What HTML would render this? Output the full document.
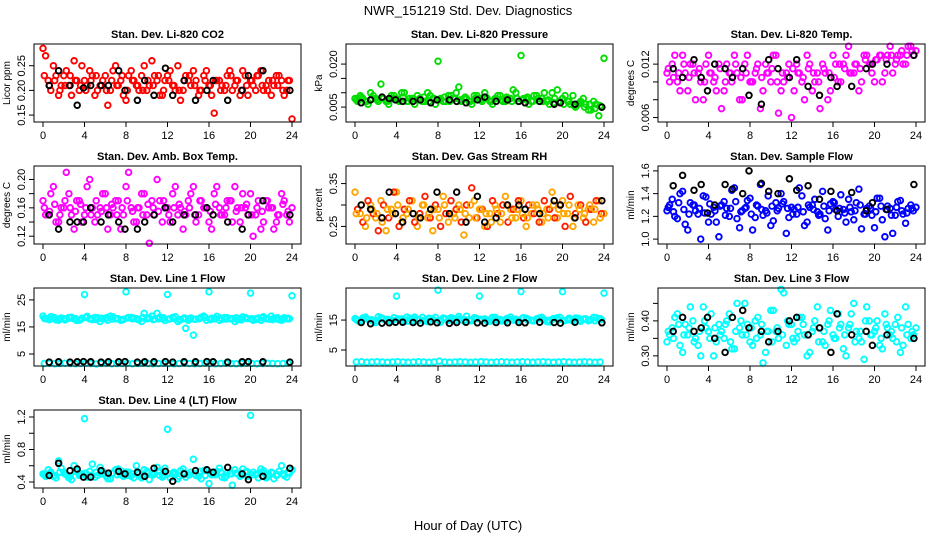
<!DOCTYPE html>
<html><head><meta charset="utf-8"><style>
html,body{margin:0;padding:0;background:#fff;}
svg{display:block;font-family:"Liberation Sans",sans-serif;}
</style></head><body>
<svg id="chart" width="936" height="540" viewBox="0 0 936 540" xmlns="http://www.w3.org/2000/svg">
<rect width="936" height="540" fill="#fff"/>
<text x="468" y="15" text-anchor="middle" font-size="13">NWR_151219  Std. Dev. Diagnostics</text>
<text x="468" y="530" text-anchor="middle" font-size="13">Hour of Day (UTC)</text>
</svg>
<script>
const xTicks=[0,4,8,12,16,20,24];
const hA=[0,0.5,1,1.5,2,2.5,3,3.5,4,4.5,5,5.5,6,6.5,7,7.5,8,8.5,9,9.5,10,10.5,11,11.5,12,12.5,13,13.5,14,14.5,15,15.5,16,16.5,17,17.5,18,18.5,19,19.5,20,20.5,21,21.5,22,22.5,23,23.5,24];
const hB=[0.25,0.75,1.25,1.75,2.25,2.75,3.25,3.75,4.25,4.75,5.25,5.75,6.25,6.75,7.25,7.75,8.25,8.75,9.25,9.75,10.25,10.75,11.25,11.75,12.25,12.75,13.25,13.75,14.25,14.75,15.25,15.75,16.25,16.75,17.25,17.75,18.25,18.75,19.25,19.75,20.25,20.75,21.25,21.75,22.25,22.75,23.25,23.75];
const hC=[0.125,0.625,1.125,1.625,2.125,2.625,3.125,3.625,4.125,4.625,5.125,5.625,6.125,6.625,7.125,7.625,8.125,8.625,9.125,9.625,10.125,10.625,11.125,11.625,12.125,12.625,13.125,13.625,14.125,14.625,15.125,15.625,16.125,16.625,17.125,17.625,18.125,18.625,19.125,19.625,20.125,20.625,21.125,21.625,22.125,22.625,23.125,23.625];
const hK=[0.6,1.5,2.6,3.3,3.9,4.6,5.6,6.3,7.3,7.9,9.1,9.8,10.7,11.8,12.5,13.6,14.7,15.8,16.4,17.8,19.2,19.8,21.2,23.8];

const co2A=[0.285,0.22,0.25,0.19,0.23,0.21,0.26,0.20,0.22,0.24,0.19,0.21,0.23,0.20,0.25,0.22,0.18,0.24,0.21,0.23,0.20,0.26,0.22,0.19,0.23,0.21,0.25,0.20,0.22,0.24,0.19,0.23,0.21,0.154,0.22,0.20,0.24,0.21,0.19,0.23,0.22,0.20,0.24,0.21,0.19,0.23,0.22,0.20,0.142];
const co2B=[0.27,0.20,0.23,0.21,0.24,0.19,0.22,0.25,0.21,0.23,0.20,0.22,0.17,0.24,0.21,0.19,0.23,0.22,0.20,0.25,0.21,0.23,0.19,0.22,0.24,0.20,0.18,0.23,0.21,0.22,0.20,0.24,0.19,0.22,0.21,0.23,0.20,0.22,0.24,0.19,0.21,0.23,0.20,0.22,0.21,0.23,0.19,0.22];
const co2C=[0.23,0.21,0.22,0.20,0.21,0.23,0.22,0.21,0.20,0.22,0.23,0.21,0.20,0.22,0.21,0.23,0.20,0.22,0.21,0.20,0.22,0.21,0.23,0.20,0.22,0.21,0.20,0.22,0.23,0.21,0.20,0.22,0.21,0.22,0.20,0.21,0.23,0.22,0.20,0.21,0.22,0.23,0.21,0.20,0.22,0.21,0.20,0.22];
const co2K=[0.21,0.24,0.21,0.17,0.205,0.21,0.21,0.21,0.24,0.20,0.18,0.22,0.19,0.245,0.19,0.22,0.18,0.20,0.22,0.18,0.20,0.23,0.24,0.20];

const presA=[.008,.009,.007,.010,.008,.013,.007,.009,.008,.010,.007,.008,.009,.007,.010,.008,.021,.007,.009,.008,.012,.008,.007,.009,.008,.010,.007,.008,.009,.007,.008,.010,.023,.008,.007,.009,.008,.007,.010,.011,.008,.007,.009,.006,.008,.004,.007,.002,.022];
const presB=[.007,.008,.006,.009,.007,.008,.006,.009,.007,.010,.008,.006,.008,.007,.009,.006,.008,.007,.009,.010,.007,.008,.006,.009,.007,.008,.006,.009,.007,.008,.011,.007,.008,.006,.009,.007,.010,.006,.008,.007,.009,.006,.005,.007,.006,.004,.006,.005];
const presC=[.0075,.0085,.007,.008,.0075,.0085,.007,.008,.0075,.0085,.007,.008,.0075,.0085,.007,.008,.0075,.0085,.007,.008,.0075,.0085,.007,.008,.0075,.0085,.007,.008,.0075,.0085,.007,.008,.0075,.0085,.007,.008,.007,.0075,.0065,.007,.006,.007,.0055,.0065,.005,.006,.0045,.0055];
const presK=[.0065,.0075,.0085,.008,.0075,.007,.007,.0075,.0065,.0075,.0075,.007,.0065,.0075,.0085,.007,.0075,.007,.0065,.007,.006,.0065,.006,.005];

const tempA=[.011,.012,.010,.013,.009,.012,.011,.008,.013,.010,.012,.009,.011,.013,.008,.012,.010,.011,.007,.012,.010,.013,.009,.011,.006,.012,.010,.013,.009,.011,.012,.008,.013,.010,.012,.014,.011,.009,.013,.012,.010,.013,.011,.014,.012,.013,.012,.014,.0135];
const tempB=[.010,.013,.009,.011,.012,.008,.010,.012,.011,.009,.007,.012,.010,.011,.008,.013,.010,.012,.009,.011,.013,.0065,.010,.012,.009,.011,.008,.012,.010,.007,.011,.009,.012,.010,.013,.011,.012,.010,.013,.011,.0125,.010,.013,.011,.013,.012,.014,.013];
const tempC=[.0115,.0105,.011,.012,.0105,.011,.0115,.010,.011,.0105,.0115,.010,.011,.012,.0105,.011,.010,.0115,.0105,.011,.0115,.010,.011,.0105,.0115,.011,.0105,.0115,.011,.010,.0115,.011,.0105,.012,.0115,.011,.012,.0115,.0125,.012,.0125,.013,.0125,.013,.0125,.0135,.013,.0135];
const tempK=[.0115,.0105,.0125,.0105,.009,.012,.0115,.0105,.0115,.0085,.0075,.0125,.0115,.0105,.0125,.0095,.0085,.0105,.0095,.0095,.0115,.012,.012,.013];

const ambA=[.17,.15,.19,.14,.16,.18,.13,.17,.15,.20,.14,.16,.18,.15,.17,.13,.19,.16,.14,.18,.15,.17,.20,.14,.16,.18,.15,.13,.17,.19,.15,.16,.14,.18,.16,.15,.17,.19,.14,.16,.18,.15,.13,.17,.16,.14,.18,.15,.16];
const ambB=[.15,.18,.14,.16,.21,.15,.17,.14,.19,.16,.15,.18,.13,.16,.17,.15,.21,.14,.16,.18,.11,.15,.17,.16,.14,.19,.16,.15,.18,.14,.17,.16,.13,.19,.15,.17,.14,.16,.18,.15,.12,.17,.14,.16,.13,.15,.17,.14];
const ambC=[.16,.155,.165,.15,.17,.16,.155,.165,.16,.15,.17,.155,.16,.165,.15,.16,.17,.155,.16,.15,.165,.16,.155,.17,.15,.16,.165,.155,.16,.15,.17,.16,.155,.165,.15,.16,.17,.155,.16,.165,.15,.16,.155,.17,.16,.15,.165,.155];
const ambK=[.15,.13,.14,.14,.14,.16,.14,.15,.14,.13,.13,.14,.15,.16,.14,.15,.15,.16,.15,.14,.13,.15,.17,.15];

const rhA=[.33,.28,.25,.30,.27,.31,.24,.29,.33,.26,.28,.31,.25,.30,.27,.24,.29,.32,.26,.28,.30,.23,.27,.31,.29,.25,.28,.30,.26,.32,.29,.27,.31,.25,.28,.30,.26,.29,.33,.27,.31,.28,.25,.30,.27,.29,.26,.31,.28];
const rhB=[.29,.26,.31,.28,.24,.30,.27,.33,.25,.29,.31,.26,.28,.32,.27,.30,.25,.28,.31,.29,.26,.30,.34,.27,.29,.25,.31,.28,.30,.26,.29,.31,.27,.30,.28,.26,.31,.29,.27,.30,.25,.32,.28,.30,.26,.29,.31,.28];
const rhC=[.28,.30,.27,.29,.28,.26,.29,.28,.30,.27,.29,.28,.27,.30,.28,.29,.27,.30,.28,.27,.29,.28,.30,.27,.29,.28,.26,.29,.28,.30,.27,.29,.28,.27,.30,.29,.28,.27,.30,.29,.28,.30,.27,.29,.28,.30,.29,.27];
const rhK=[.30,.29,.27,.33,.28,.26,.28,.27,.29,.33,.28,.33,.26,.32,.26,.27,.30,.30,.29,.28,.31,.30,.27,.31];

const sfA=[1.25,1.35,1.18,1.42,1.08,1.30,1.22,1.38,1.15,1.28,1.02,1.33,1.20,1.45,1.10,1.27,1.36,1.19,1.48,1.25,1.12,1.32,1.40,1.05,1.28,1.22,1.38,1.15,1.30,1.24,1.42,1.08,1.33,1.20,1.26,1.35,1.17,1.44,1.22,1.29,1.10,1.36,1.02,1.27,1.21,1.34,1.14,1.30,1.28];
const sfB=[1.30,1.20,1.40,1.13,1.32,1.25,1.00,1.37,1.22,1.15,1.30,1.27,1.43,1.18,1.25,1.34,1.08,1.29,1.21,1.38,1.16,1.27,1.33,1.19,1.26,1.45,1.12,1.28,1.35,1.22,1.18,1.31,1.26,1.39,1.15,1.24,1.32,1.09,1.27,1.21,1.36,1.17,1.29,1.05,1.33,1.22,1.27,1.25];
const sfC=[1.28,1.24,1.32,1.26,1.22,1.30,1.27,1.23,1.31,1.25,1.29,1.21,1.27,1.33,1.24,1.28,1.22,1.30,1.26,1.23,1.29,1.25,1.31,1.27,1.22,1.28,1.24,1.30,1.26,1.21,1.29,1.25,1.32,1.27,1.23,1.28,1.25,1.30,1.22,1.27,1.24,1.29,1.26,1.21,1.28,1.25,1.23,1.27];
const sfK=[1.47,1.56,1.43,1.48,1.23,1.30,1.48,1.44,1.40,1.60,1.49,1.42,1.40,1.53,1.43,1.47,1.35,1.42,1.25,1.41,1.25,1.32,1.26,1.48];

const l1A=[19,18,18.5,17.5,18,18.5,18,17.5,27,18,18.5,17,18,19,18,17.5,28,18.5,18,17,18,19,20,18,27,18.5,17,18,17.5,12,18,19,28,18,17.5,18.5,18,17,18,18.5,27.5,18,17.5,18,19,18,17.5,18,26.5];
const l1B=[18,18.8,17.6,18.3,17.9,18.6,17.4,18.2,18.9,17.7,18.4,18.1,17.5,18.7,18,17.8,18.5,18.2,17.6,20,18.3,17.9,18.6,17.4,18.1,18.8,17.7,14.5,18.3,17.9,18.6,17.5,18.2,18.9,17.8,18.4,18,17.6,18.7,18.1,17.5,18.3,18.8,17.9,18.2,17.7,18.4,18];
const l1C=[1.5,1.6,1.4,1.5,1.6,1.5,1.4,1.5,1.6,1.5,1.3,1.5,1.6,1.4,1.5,1.5,1.6,1.4,1.5,1.6,1.5,1.4,1.5,1.6,1.5,1.4,1.5,1.6,1.5,1.4,1.5,1.6,1.5,1.4,1.5,1.6,1.5,1.4,1.5,1.6,1.5,1.4,1.5,1.6,1.5,1.4,1.5,1.6];
const l1D=[18.2,17.7,18.4,18,17.6,18.3,18.1,17.8,18.5,18,17.7,18.2,18.4,17.9,18.1,17.6,18.3,18,17.8,18.5,18.2,17.7,18,18.4,17.9,18.1,17.6,18.3,18,17.8,18.2,18.5,17.7,18.1,18.3,17.9,18,18.4,17.6,18.2,18,17.8,18.3,18.1,17.7,18.4,18,18.2];
const l1K=[2.0,2.1,2.0,2.1,2.2,2.1,2.0,2.1,2.1,2.2,2.0,2.1,2.1,2.2,2.0,2.1,2.1,2.2,2.1,2.0,2.1,2.2,2.1,2.0];

const l2A=[15.5,14.5,16,15,14.2,15.8,15,14.6,23,15.4,16,14.8,15.2,15.9,14.5,15.3,25,15.7,14.9,15.5,16.2,14.7,15.1,15.8,23,15.4,14.6,15.9,15.2,14.8,16,15.3,24.5,15.6,14.9,15.4,15.9,14.5,15.2,15.8,24.5,15.1,14.7,15.6,15.3,14.8,15.9,15.2,24];
const l2B=[14.8,15.7,15.2,14.6,16.1,15.3,14.9,15.8,15.1,14.5,15.6,16,15,14.7,15.5,15.9,14.3,15.4,15.8,14.9,15.2,16.3,14.8,15.5,15.1,14.6,15.9,15.3,14.9,15.6,15,14.5,15.8,15.2,14.8,15.7,15.1,14.4,15.5,15.9,14.9,15.3,15.7,14.6,15.4,15.1,15.8,15.2];
const l2C=[1,1.1,0.9,1,1.1,1,0.9,1,1.1,1,0.9,1,1.1,1,0.9,1,1.3,1,0.9,1,1.1,1,0.9,1,1.1,1,0.9,1,1.1,1,0.9,1,1.1,1,0.9,1,1.1,1,0.9,1,1.1,1,0.9,1,1.1,1,0.9,1];
const l2D=[15.2,14.9,15.5,15.1,14.8,15.6,15.3,14.9,15.4,15.1,14.7,15.5,15.2,14.9,15.6,15,14.8,15.4,15.2,14.9,15.5,15.1,14.8,15.6,15.3,14.9,15.4,15,14.7,15.5,15.2,14.9,15.6,15.1,14.8,15.4,15.2,14.9,15.5,15.1,14.8,15.6,15.3,14.9,15.4,15,14.8,15.5];
const l2K=[14.2,13.8,14,14.1,14.3,14.3,14.2,14,14.4,14.1,13.9,14.2,14.3,14.1,14,14.2,14.1,14.2,14.1,14.3,14.2,14,14.3,14.1];

const l3A=[0.34,0.38,0.42,0.31,0.36,0.40,0.33,0.44,0.37,0.30,0.39,0.35,0.42,0.32,0.38,0.45,0.34,0.40,0.36,0.31,0.43,0.37,0.49,0.33,0.39,0.35,0.41,0.30,0.37,0.44,0.34,0.39,0.36,0.42,0.32,0.38,0.45,0.35,0.29,0.40,0.37,0.33,0.42,0.36,0.39,0.31,0.44,0.35,0.38];
const l3B=[0.36,0.41,0.33,0.39,0.44,0.35,0.30,0.38,0.42,0.34,0.37,0.40,0.32,0.45,0.36,0.39,0.33,0.41,0.28,0.37,0.43,0.35,0.48,0.39,0.34,0.41,0.36,0.31,0.40,0.38,0.33,0.43,0.35,0.39,0.30,0.42,0.37,0.34,0.44,0.36,0.40,0.32,0.38,0.35,0.41,0.33,0.39,0.36];
const l3C=[0.37,0.35,0.39,0.36,0.38,0.34,0.37,0.40,0.35,0.38,0.36,0.39,0.34,0.37,0.40,0.36,0.38,0.35,0.39,0.37,0.34,0.38,0.36,0.40,0.35,0.37,0.39,0.36,0.38,0.34,0.37,0.40,0.35,0.38,0.36,0.39,0.34,0.37,0.40,0.36,0.38,0.35,0.39,0.37,0.34,0.38,0.36,0.37];
const l3K=[0.37,0.41,0.37,0.38,0.41,0.35,0.31,0.41,0.43,0.38,0.37,0.34,0.37,0.40,0.41,0.36,0.38,0.31,0.42,0.36,0.37,0.33,0.36,0.35];

const l4A=[0.50,0.55,0.47,0.66,0.52,0.45,0.60,0.48,1.18,0.53,0.46,0.58,0.50,0.44,0.55,0.49,0.52,0.47,0.60,0.45,0.53,0.50,0.58,0.46,1.05,0.51,0.44,0.56,0.49,0.68,0.47,0.54,0.38,0.51,0.57,0.45,0.50,0.55,0.47,0.52,1.22,0.49,0.56,0.45,0.52,0.48,0.60,0.46,0.55];
const l4B=[0.47,0.52,0.45,0.57,0.49,0.43,0.55,0.50,0.46,0.62,0.48,0.53,0.44,0.51,0.56,0.47,0.52,0.45,0.50,0.55,0.43,0.51,0.48,0.57,0.45,0.50,0.54,0.46,0.52,0.48,0.44,0.55,0.49,0.53,0.46,0.51,0.36,0.50,0.56,0.47,0.52,0.45,0.54,0.49,0.44,0.53,0.48,0.51];
const l4C=[0.49,0.51,0.48,0.52,0.50,0.47,0.53,0.49,0.51,0.48,0.52,0.50,0.47,0.51,0.49,0.53,0.48,0.50,0.52,0.47,0.51,0.49,0.53,0.48,0.50,0.52,0.47,0.51,0.49,0.50,0.53,0.48,0.51,0.49,0.52,0.47,0.50,0.51,0.48,0.53,0.49,0.50,0.52,0.47,0.51,0.49,0.50,0.52];
const l4K=[0.48,0.63,0.54,0.56,0.46,0.46,0.54,0.51,0.53,0.50,0.52,0.47,0.57,0.53,0.41,0.50,0.54,0.55,0.52,0.58,0.50,0.43,0.47,0.57];

const panels=[
 {name:'co2',title:'Stan. Dev. Li-820 CO2',ylab:'Licor ppm',col:0,row:0,ymin:0.136,ymax:0.294,ticks:[0.15,0.20,0.25],labels:['0.15','0.20','0.25'],series:[[hA,co2A,'#ff0000'],[hB,co2B,'#ff0000'],[hC,co2C,'#ff0000'],[hK,co2K,'#000']]},
 {name:'pressure',title:'Stan. Dev. Li-820 Pressure',ylab:'kPa',col:1,row:0,ymin:-0.0002,ymax:0.027,ticks:[0.005,0.010,0.015,0.020],labels:['0.005','','','0.020'],series:[[hA,presA,'#00dd00'],[hB,presB,'#00dd00'],[hC,presC,'#00dd00'],[hK,presK,'#000']]},
 {name:'li820-temp',title:'Stan. Dev. Li-820 Temp.',ylab:'degrees C',col:2,row:0,ymin:0.0055,ymax:0.01426,ticks:[0.006,0.008,0.010,0.012],labels:['0.006','','','0.012'],series:[[hA,tempA,'#ff00ff'],[hB,tempB,'#ff00ff'],[hC,tempC,'#ff00ff'],[hK,tempK,'#000']]},
 {name:'amb-box-temp',title:'Stan. Dev. Amb. Box Temp.',ylab:'degrees C',col:0,row:1,ymin:0.109,ymax:0.219,ticks:[0.12,0.14,0.16,0.18,0.20],labels:['0.12','','0.16','','0.20'],series:[[hA,ambA,'#ff00ff'],[hB,ambB,'#ff00ff'],[hC,ambC,'#ff00ff'],[hK,ambK,'#000']]},
 {name:'gas-stream-rh',title:'Stan. Dev. Gas Stream RH',ylab:'percent',col:1,row:1,ymin:0.209,ymax:0.391,ticks:[0.25,0.30,0.35],labels:['0.25','','0.35'],series:[[hA,rhA,'#ffa500'],[hB,rhB,'#ff2000'],[hC,rhC,'#ffa500'],[hK,rhK,'#000']]},
 {name:'sample-flow',title:'Stan. Dev. Sample Flow',ylab:'ml/min',col:2,row:1,ymin:0.957,ymax:1.643,ticks:[1.0,1.2,1.4,1.6],labels:['1.0','1.2','1.4','1.6'],series:[[hA,sfA,'#0000ff'],[hB,sfB,'#0000ff'],[hC,sfC,'#0000ff'],[hK,sfK,'#000']]},
 {name:'line1-flow',title:'Stan. Dev. Line 1 Flow',ylab:'ml/min',col:0,row:2,ymin:0.56,ymax:29.4,ticks:[5,15,25],labels:['5','15','25'],series:[[hA,l1A,'#00ffff'],[hB,l1B,'#00ffff'],[hC,l1C,'#00ffff'],[hC,l1D,'#00ffff'],[hK,l1K,'#000']]},
 {name:'line2-flow',title:'Stan. Dev. Line 2 Flow',ylab:'ml/min',col:1,row:2,ymin:-0.33,ymax:25.7,ticks:[5,15],labels:['5','15'],series:[[hA,l2A,'#00ffff'],[hB,l2B,'#00ffff'],[hC,l2C,'#00ffff'],[hC,l2D,'#00ffff'],[hK,l2K,'#000']]},
 {name:'line3-flow',title:'Stan. Dev. Line 3 Flow',ylab:'ml/min',col:2,row:2,ymin:0.271,ymax:0.494,ticks:[0.30,0.35,0.40,0.45],labels:['0.30','','0.40',''],series:[[hA,l3A,'#00ffff'],[hB,l3B,'#00ffff'],[hC,l3C,'#00ffff'],[hK,l3K,'#000']]},
 {name:'line4-flow',title:'Stan. Dev. Line 4 (LT) Flow',ylab:'ml/min',col:0,row:3,ymin:0.326,ymax:1.286,ticks:[0.4,0.6,0.8,1.0,1.2],labels:['0.4','','0.8','','1.2'],series:[[hA,l4A,'#00ffff'],[hB,l4B,'#00ffff'],[hC,l4C,'#00ffff'],[hK,l4K,'#000']]}
];

const NS='http://www.w3.org/2000/svg';
const svg=document.getElementById('chart');
const colL=[34,346,658], rowT=[44,166,288,410], W=267, H=78;
function mk(tag,attrs,parent){const e=document.createElementNS(NS,tag);for(const k in attrs)e.setAttribute(k,attrs[k]);parent.appendChild(e);return e;}
panels.forEach(p=>{
  const L=colL[p.col], T=rowT[p.row];
  const g=mk('g',{},svg);
  
  
  const xs=h=>L+9+h/24*(W-18);
  const ys=v=>T+H-(v-p.ymin)/(p.ymax-p.ymin)*H;
  const t=mk('text',{x:L+W/2,y:T-6,'text-anchor':'middle','font-size':'11','font-weight':'bold'},g);
  t.textContent=p.title;
  
  
  p.series.forEach(s=>{
    const [hs,vs,c]=s;
    vs.forEach((v,i)=>{
      const c1=mk('circle',{cx:xs(hs[i]).toFixed(1),cy:ys(v).toFixed(1),r:2.8,fill:'none',stroke:c,'stroke-width':1.9},g);
      
      
    });
  });
  const box=mk('rect',{x:L,y:T,width:W,height:H,fill:'none',stroke:'#000','stroke-width':1},g);
  
  
  const xa=mk('g',{},g);
  
  
  mk('line',{x1:xs(0),x2:xs(24),y1:T+H,y2:T+H,stroke:'#000'},xa);
  xTicks.forEach(v=>{
    mk('line',{x1:xs(v),x2:xs(v),y1:T+H,y2:T+H+5,stroke:'#000'},xa);
    const tl=mk('text',{x:xs(v),y:T+H+17,'text-anchor':'middle','font-size':'11'},xa);
    tl.textContent=v;
    
    
  });
  const ya=mk('g',{},g);
  
  
  mk('line',{x1:L,x2:L,y1:ys(p.ticks[0]),y2:ys(p.ticks[p.ticks.length-1]),stroke:'#000'},ya);
  p.ticks.forEach((v,i)=>{
    const y=ys(v);
    mk('line',{x1:L-5,x2:L,y1:y,y2:y,stroke:'#000'},ya);
    if(p.labels[i]){
      const tl=mk('text',{x:L-9,y:y,'text-anchor':'middle','font-size':'11',transform:`rotate(-90 ${L-9} ${y})`},ya);
      tl.textContent=p.labels[i];
      
      
    }
  });
  const yl=mk('text',{x:L-24,y:T+H/2,'text-anchor':'middle','font-size':'10',transform:`rotate(-90 ${L-24} ${T+H/2})`},g);
  yl.textContent=p.ylab;
  
  
});
</script>
</body></html>
